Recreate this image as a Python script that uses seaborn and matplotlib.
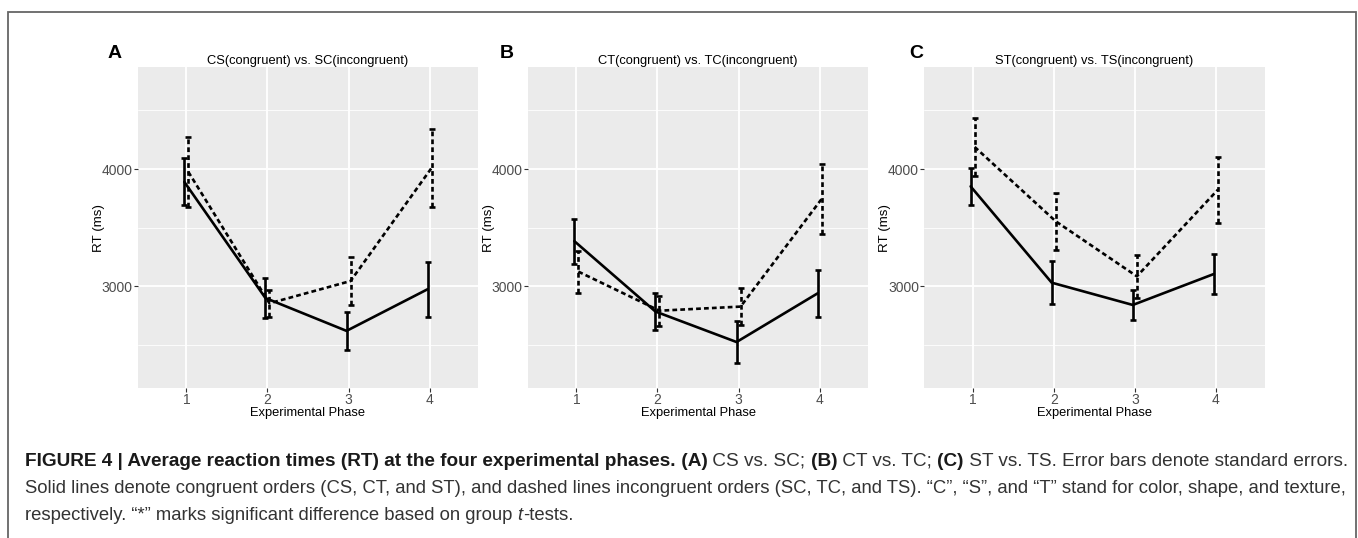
import numpy as np
import pandas as pd
import matplotlib.pyplot as plt
import seaborn as sns
from matplotlib.patches import Rectangle

# Valores (media y error estándar por fase)
fases = [1, 2, 3, 4]

cs_media = [3890, 2900, 2620, 2975]
cs_se = [200, 170, 160, 233]
sc_media = [3975, 2855, 3045, 4010]
sc_se = [298, 115, 206, 334]

ct_media = [3385, 2785, 2525, 2940]
ct_se = [192, 159, 180, 203]
tc_media = [3125, 2792, 2827, 3745]
tc_se = [178, 127, 157, 301]

st_media = [3852, 3031, 2841, 3105]
st_se = [157, 185, 128, 173]
ts_media = [4188, 3554, 3085, 3824]
ts_se = [250, 244, 182, 281]

letras = ['A', 'B', 'C']
titulos = ['CS(congruent) vs. SC(incongruent)',
           'CT(congruent) vs. TC(incongruent)',
           'ST(congruent) vs. TS(incongruent)']
paneles = [(cs_media, cs_se, sc_media, sc_se),
           (ct_media, ct_se, tc_media, tc_se),
           (st_media, st_se, ts_media, ts_se)]

sns.set_theme(style='darkgrid', rc={
    'axes.facecolor': '#EBEBEB',
    'grid.color': 'white',
    'xtick.bottom': True,
    'ytick.left': True,
    'xtick.major.size': 3,
    'ytick.major.size': 3,
    'xtick.major.width': 0.8,
    'ytick.major.width': 0.8,
    'xtick.color': '#333333',
    'ytick.color': '#333333',
    'xtick.major.pad': 0.6,
    'ytick.major.pad': 0.6,
})
plt.rcParams['font.family'] = ['Liberation Sans', 'DejaVu Sans']

fig = plt.figure(figsize=(13.58, 5.38), dpi=100)

izq = [0.1014, 0.3886, 0.6804]
desplaza = 0.025
guiones = (1.8, 1.2)

for i, (m1, e1, m2, e2) in enumerate(paneles):
    ax = fig.add_axes([izq[i], 0.2788, 0.2508, 0.5961])
    df = pd.DataFrame({
        'fase': fases * 2,
        'x': [f - desplaza for f in fases] + [f + desplaza for f in fases],
        'rt': m1 + m2,
        'se': e1 + e2,
        'orden': ['congruent'] * 4 + ['incongruent'] * 4,
    })
    sns.lineplot(data=df, x='x', y='rt', style='orden',
                 style_order=['congruent', 'incongruent'],
                 dashes={'congruent': '', 'incongruent': guiones},
                 color='black', linewidth=1.9, legend=False, ax=ax)
    for orden, estilo in [('congruent', '-'), ('incongruent', (0, guiones))]:
        sub = df[df['orden'] == orden]
        _, caps, barras = ax.errorbar(sub['x'], sub['rt'], yerr=sub['se'], fmt='none',
                                      ecolor='black', elinewidth=1.9, capsize=2,
                                      capthick=1.9)
        barras[0].set_linestyle(estilo)

    ax.set_xlim(0.4, 4.6)
    ax.set_ylim(2133, 4867)
    ax.set_xticks(fases)
    ax.set_xticklabels([str(f) for f in fases])
    ax.set_yticks([3000, 4000])
    ax.set_yticks([2500, 3500, 4500], minor=True)
    ax.grid(which='major', color='white', linewidth=1.3)
    ax.grid(which='minor', axis='y', color='white', linewidth=0.6)
    ax.tick_params(which='minor', left=False)
    ax.tick_params(labelsize=10, labelcolor='#4D4D4D')
    for s in ax.spines.values():
        s.set_visible(False)
    ax.set_xlabel('Experimental Phase', fontsize=9.3, labelpad=0.3, color='black')
    ax.set_ylabel('RT (ms)', fontsize=9.6, labelpad=-2.5, color='black')
    ax.set_title(titulos[i], fontsize=9.3, pad=2.5, color='black')

pos_letras = [115, 507, 916]
for letra, px in zip(letras, pos_letras):
    fig.text(px / 1358, 1 - 53 / 538, letra, ha='center', va='center',
             fontsize=14, fontweight='bold', color='black')

# marco exterior
fig.add_artist(Rectangle((8 / 1358, -0.1), 1348 / 1358, 1.1 - 12 / 538,
                         transform=fig.transFigure, fill=False,
                         edgecolor='#666666', linewidth=1.3))

# pie de figura con tramos en negrita / cursiva
cap = fig.add_axes([0, 0, 1, 1], facecolor='none')
cap.set_axis_off()
col = '#333333'
lineas = [
    [('FIGURE 4 | Average reaction times (RT) at the four experimental phases.', 'bold', 'normal'),
     (' (A)', 'bold', 'normal'), (' CS vs. SC; ', 'normal', 'normal'),
     ('(B)', 'bold', 'normal'), (' CT vs. TC; ', 'normal', 'normal'),
     ('(C)', 'bold', 'normal'), (' ST vs. TS. Error bars denote standard errors.', 'normal', 'normal')],
    [('Solid lines denote congruent orders (CS, CT, and ST), and dashed lines incongruent orders '
      '(SC, TC, and TS). \u201cC\u201d, \u201cS\u201d, and \u201cT\u201d stand for color, shape, and texture,',
      'normal', 'normal')],
    [('respectively. \u201c*\u201d marks significant difference based on group ', 'normal', 'normal'),
     ('t', 'normal', 'italic'), ('-tests.', 'normal', 'normal')],
]
tamanos = [13.65, 13.3, 13.3]
base_y = [466, 493, 520]
for linea, yb, tam in zip(lineas, base_y, tamanos):
    prev = None
    for texto, peso, estilo in linea:
        c = '#1a1a1a' if peso == 'bold' else col
        if prev is None:
            prev = cap.text(25 / 1358, 1 - yb / 538, texto, transform=fig.transFigure,
                            ha='left', va='baseline', fontsize=tam, fontweight=peso,
                            fontstyle=estilo, color=c)
        else:
            prev = cap.annotate(texto, xy=(1, 0), xycoords=prev, ha='left', va='bottom',
                                fontsize=tam, fontweight=peso, fontstyle=estilo, color=c)

fig.savefig('out.png', dpi=100)
